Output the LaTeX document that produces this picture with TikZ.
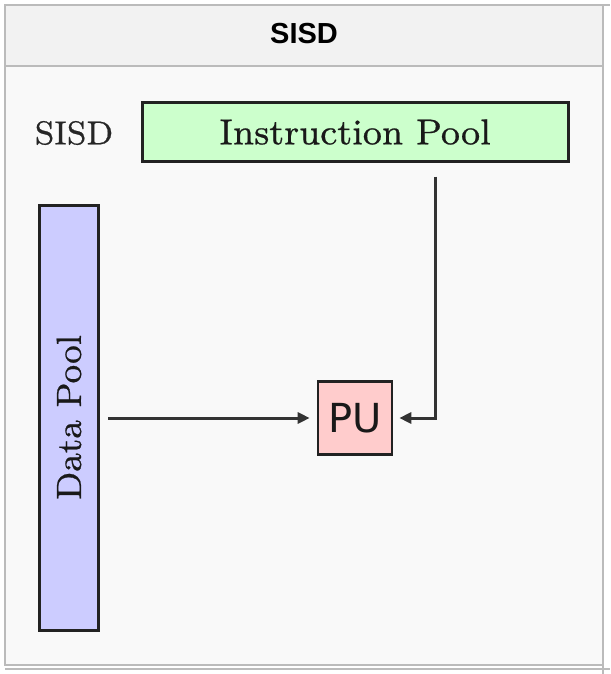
\documentclass[tikz,border=0pt]{standalone}
\usepackage{fontspec}
\newfontfamily\lmeight{lmroman8-regular.otf}[FakeBold=0.6]
\newfontfamily\hdrfont{Liberation Sans}
\newfontfamily\pufont{DejaVu Sans}
\usetikzlibrary{arrows.meta}
\definecolor{hdrbg}{HTML}{F2F2F2}
\definecolor{bodybg}{HTML}{F9F9F9}
\definecolor{tblline}{HTML}{BBBBBB}
\definecolor{ipgreen}{HTML}{CCFFCC}
\definecolor{dpblue}{HTML}{CCCCFF}
\definecolor{pupink}{HTML}{FFCCCC}
\definecolor{boxline}{HTML}{222222}
\definecolor{arrline}{HTML}{333333}
\tikzset{
  poolbox/.style={draw=boxline, line width=3pt, inner sep=0pt, font=\lmeight\fontsize{36}{42}\selectfont, text=black!90},
  conn/.style={draw=arrline, line width=3pt, -{Triangle[length=12pt,width=11pt]}},
  tblborder/.style={draw=tblline, line width=2pt}
}
\begin{document}
\begin{tikzpicture}[x=1pt,y=-1pt]
\useasboundingbox[fill=white] (0,0) rectangle (610,674);
% table
\fill[hdrbg] (5,5) rectangle (603,66);
\fill[bodybg] (5,66) rectangle (603,665);
\draw[tblborder] (5,5) rectangle (603,665);
\draw[tblborder] (5,66) -- (603,66);
\draw[tblborder] (603,5) -- (610,5);
\draw[tblborder] (5,669) -- (610,669);
\draw[tblborder] (603,665) -- (603,674);
\node[font=\hdrfont\bfseries\fontsize{29}{32}\selectfont] (hdr) at (304,34) {SISD};
% diagram
\node[font=\lmeight\fontsize{33}{38}\selectfont, text=black!85] (lbl) at (74,133) {SISD};
\node[poolbox, fill=ipgreen, minimum width=426pt, minimum height=58pt] (ip) at (355,132) {Instruction Pool};
\node[poolbox, fill=dpblue, minimum width=59pt, minimum height=425pt] (dp) at (69,417.5) {};
\node[font=\lmeight\fontsize{35}{40}\selectfont, text=black!90, rotate=90] (dpt) at (dp.center) {Data Pool};
\node[draw=boxline, line width=2.6pt, fill=pupink, minimum width=74pt, minimum height=73pt, inner sep=0pt, font=\pufont\fontsize{40}{44}\selectfont, text=black!90] (pu) at (355,418) {PU};
\coordinate (corner) at (435,418);
\draw[conn, shorten <=8pt, shorten >=7pt] (dp.east |- pu.west) -- (pu.west);
\draw[conn, shorten <=14pt, shorten >=6pt] (ip.south -| corner) -- (corner) -- (pu.east);
\end{tikzpicture}
\end{document}
